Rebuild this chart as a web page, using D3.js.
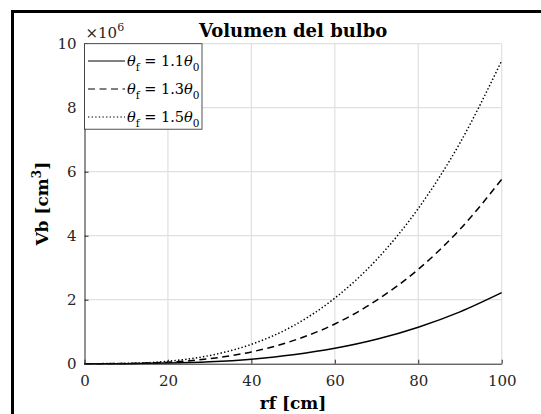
<!DOCTYPE html>
<html>
<head>
<meta charset="utf-8">
<script src="https://cdn.jsdelivr.net/npm/d3@7"></script>
<style>
body { margin: 0; background: #fff; }
svg { display: block; }
text { font-family: "DejaVu Serif", serif; fill: #262626; }
</style>
</head>
<body>
<svg id="chart" width="541" height="414"></svg>
<script>
// radius values (cm)
var rf = [0, 10, 20, 30, 40, 50, 60, 70, 80, 90, 100];

// bulb volume (x 1e6 cm^3)
var vb11 = [0, 0.002, 0.018, 0.06, 0.142, 0.278, 0.48, 0.762, 1.14, 1.62, 2.22];
var vb13 = [0, 0.006, 0.046, 0.156, 0.368, 0.72, 1.24, 1.98, 2.95, 4.2, 5.76];
var vb15 = [0, 0.0095, 0.076, 0.256, 0.606, 1.18, 2.05, 3.25, 4.85, 6.9, 9.47];

var seriesNames = ['1.1', '1.3', '1.5'];
var seriesDash = ['none', '7,4.5', '1.4,2.2'];

var xTicks = [0, 20, 40, 60, 80, 100];
var yTicks = [0, 2, 4, 6, 8, 10];

// plot box
var plotL = 84.5, plotR = 501.7, plotT = 43.7, plotB = 363.7;

var svg = d3.select('#chart');

var x = d3.scaleLinear().domain([0, 100]).range([plotL, plotR]);
var y = d3.scaleLinear().domain([0, 10]).range([plotB, plotT]);

// figure frame (cropped on right / bottom)
svg.append('rect').attr('x', 12.5).attr('y', 11.5).attr('width', 700)
		.attr('height', 600).style('fill', 'none').style('stroke', '#000')
		.style('stroke-width', 3);

// grid
var grid = svg.append('g');
grid.selectAll('.gx').data(xTicks.slice(1)).enter().append('line')
		.attr('x1', function(d) { return x(d); })
		.attr('x2', function(d) { return x(d); })
		.attr('y1', plotT).attr('y2', plotB)
		.style('stroke', '#e0e0e0').style('stroke-width', 1.2);
grid.selectAll('.gy').data(yTicks.slice(1)).enter().append('line')
		.attr('y1', function(d) { return y(d); })
		.attr('y2', function(d) { return y(d); })
		.attr('x1', plotL).attr('x2', plotR)
		.style('stroke', '#e0e0e0').style('stroke-width', 1.2);

// curves
var line = d3.line().x(function(d) { return x(d[0]); })
		.y(function(d) { return y(d[1]); }).curve(d3.curveMonotoneX);

[vb11, vb13, vb15].forEach(function(vals, i) {
	svg.append('path').datum(rf.map(function(r, j) { return [r, vals[j]]; }))
			.attr('d', line).style('fill', 'none').style('stroke', '#000')
			.style('stroke-width', 1.5)
			.style('stroke-dasharray', seriesDash[i]);
});

// axes
var xAxis = d3.axisBottom(x).tickValues(xTicks).tickSizeInner(-4)
		.tickSizeOuter(0).tickPadding(12);
var yAxis = d3.axisLeft(y).tickValues(yTicks).tickSizeInner(-4)
		.tickSizeOuter(0).tickPadding(8);

var gx = svg.append('g').attr('transform', 'translate(0,' + plotB + ')')
		.call(xAxis);
var gy = svg.append('g').attr('transform', 'translate(' + plotL + ',0)')
		.call(yAxis);

[gx, gy].forEach(function(g) {
	g.select('.domain').style('stroke', '#262626').style('stroke-width', 1);
	g.selectAll('.tick line').style('stroke', '#262626');
	g.selectAll('.tick text').style('font-family', '"DejaVu Serif", serif')
			.style('font-size', '15px').style('fill', '#262626');
});

// exponent
var expo = svg.append('text').attr('x', plotL + 1).attr('y', 38)
		.style('font-size', '15px');
expo.append('tspan').text('\u00d710');
expo.append('tspan').attr('dy', -7).style('font-size', '11px').text('6');

// title and labels
svg.append('text').attr('x', (plotL + plotR) / 2).attr('y', 37)
		.attr('text-anchor', 'middle').style('font-weight', 'bold')
		.style('font-size', '18px').style('fill', '#000')
		.text('Volumen del bulbo');

svg.append('text').attr('x', (plotL + plotR) / 2).attr('y', 409)
		.attr('text-anchor', 'middle').style('font-weight', 'bold')
		.style('font-size', '17px').style('fill', '#000').text('rf [cm]');

var yl = svg.append('text').attr('transform',
		'translate(48,' + ((plotT + plotB) / 2) + ') rotate(-90)')
		.attr('text-anchor', 'middle').style('font-weight', 'bold')
		.style('font-size', '17px').style('fill', '#000');
yl.append('tspan').text('Vb [cm');
yl.append('tspan').attr('dy', -7).style('font-size', '12px').text('3');
yl.append('tspan').attr('dy', 7).text(']');

// legend
var lg = svg.append('g');
lg.append('rect').attr('x', plotL).attr('y', plotT).attr('width', 117.5)
		.attr('height', 85.5).style('fill', '#fff').style('stroke', '#262626')
		.style('stroke-width', 0.8);

seriesNames.forEach(function(name, i) {
	var ry = 61 + i * 28;
	lg.append('line').attr('x1', 88).attr('x2', 125).attr('y1', ry)
			.attr('y2', ry).style('stroke', '#000').style('stroke-width', 1)
			.style('stroke-dasharray', seriesDash[i]);
	var t = lg.append('text').attr('x', 127).attr('y', ry + 5)
			.style('font-size', '14.5px').style('fill', '#000');
	t.append('tspan').style('font-style', 'italic').text('\u03b8');
	t.append('tspan').attr('dy', 5).style('font-size', '10.5px').text('f');
	t.append('tspan').attr('dy', -5).text(' = ' + name);
	t.append('tspan').style('font-style', 'italic').text('\u03b8');
	t.append('tspan').attr('dy', 5).style('font-size', '10.5px').text('0');
});
</script>
</body>
</html>
